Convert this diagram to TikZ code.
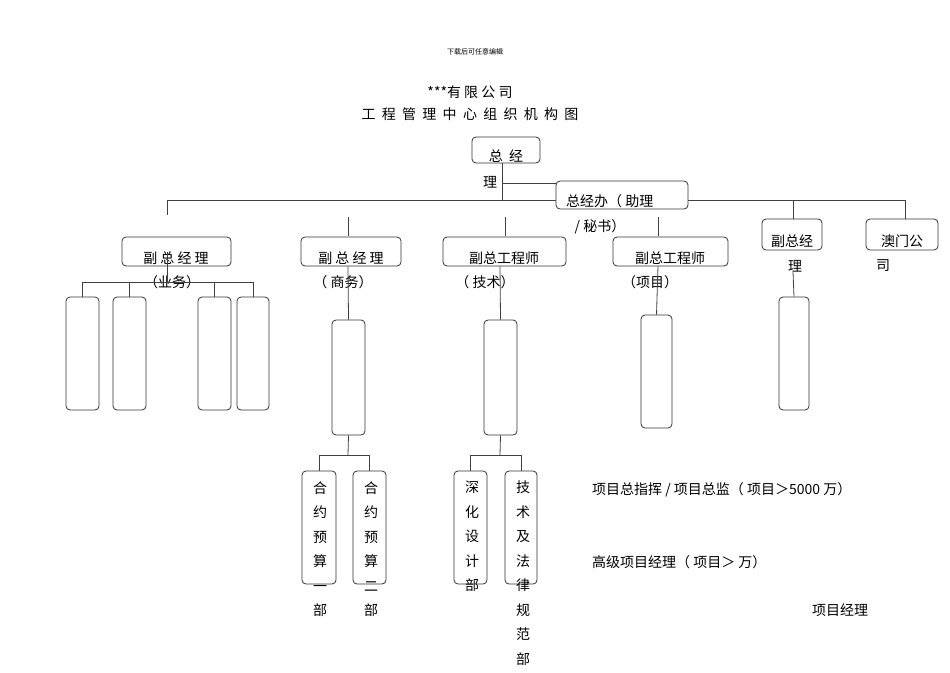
\documentclass[tikz,border=0pt]{standalone}
\usepackage{fontspec}
\setmainfont{Noto Sans CJK SC}
\begin{document}
\begin{tikzpicture}[x=1pt,y=-1pt,
  box/.style={draw=black!80,rounded corners=4pt,line width=0.8pt,inner sep=0pt},
  ln/.style={draw=black!75,line width=0.8pt},
  t/.style={font=\fontsize{14}{16}\selectfont,inner sep=0pt},
  vt/.style={font=\fontsize{14}{24.5}\selectfont,inner sep=0pt,align=center,anchor=north}]
\useasboundingbox (0,0) rectangle (950,672);
\node[font=\fontsize{7}{8}\selectfont] (hd) at (475,52) {下载后可任意编辑};
\node[t] (t1) at (470,92) {***有\ 限\ 公\ 司};
\node[t] (t2) at (470,114) {工\ \ 程\ \ 管\ \ 理\ \ 中\ \ 心\ \ 组\ \ 织\ \ 机\ \ 构\ \ 图};
% top
\node[box,minimum width=68,minimum height=26] (gm) at (506,150) {};
\node[t] at (506,156) {总\ \ 经};
\node[t] (gmb) at (490,182) {理};
\node[box,minimum width=132,minimum height=28] (ofc) at (622,195) {};
\node[t,anchor=west] at (566,201) {总经办（\ 助理};
\node[t] at (600,227) {/ 秘书）};
\coordinate (hubT) at (502,163);
\coordinate (hub) at (502,200);
\draw[ln] (hubT) -- (hub);
\draw[ln] (502,183) -- (ofc.west|-502,183);
\coordinate (hL) at (167,200); \coordinate (hR) at (905,200);
\draw[ln] (hL) -- (ofc.west|-hL); \draw[ln] (ofc.east|-hL) -- (hR);
% level 2
\node[box,minimum width=109,minimum height=29] (v1) at (176.5,251.5) {};
\node[t] at (176,258) {副\ 总\ 经\ 理}; \node[t] at (172,282) {（业务）};
\node[box,minimum width=100,minimum height=29] (v2) at (351,251.5) {};
\node[t] at (351,258) {副\ 总\ 经\ 理}; \node[t] at (343,282) {（\ 商务）};
\node[box,minimum width=123,minimum height=29] (v3) at (504.5,251.5) {};
\node[t] at (504,258) {副总工程师}; \node[t] at (485,282) {（\ 技术）};
\node[box,minimum width=115,minimum height=29] (v4) at (670.5,251.5) {};
\node[t] at (670,258) {副总工程师}; \node[t] at (650,282) {（项目）};
\node[box,minimum width=60,minimum height=31] (v5) at (792,234.5) {};
\node[t] at (792,241) {副总经}; \node[t] at (795,266) {理};
\node[box,minimum width=72,minimum height=31] (v6) at (902,234.5) {};
\node[t] at (902,241) {澳门公}; \node[t] at (883,266) {司};
\draw[ln] (hL) -- (167,215);
\draw[ln] (348,217) -- (348,236);
\draw[ln] (505,217) -- (505,236);
\draw[ln] (658,217) -- (658,236);
\draw[ln] (hL-|v5.north) ++(1,0) -- (793,219);
\draw[ln] (905,200) -- (905,219);
% group 1
\foreach \n/\x/\w in {a/82.5/33,b/129.5/33,c/214.5/33,d/253/32}{
  \node[box,minimum width=\w,minimum height=113] (g\n) at (\x,353.5) {};
}
\draw[ln] (167,252) -- (167,282);
\draw[ln] (ga.north|-0,282) -- (gd.north|-0,282);
\foreach \n in {a,b,c,d} \draw[ln] (g\n.north|-0,282) -- (g\n.north);
% group 2
\node[box,minimum width=33,minimum height=115] (m2) at (348.5,377.5) {};
\draw[ln] (348,266) -- (m2.north);
\node[box,minimum width=34,minimum height=113] (c1) at (319,527.5) {};
\node[box,minimum width=33,minimum height=113] (c2) at (369.5,527.5) {};
\draw[ln] (m2.south) -- (348,455);
\draw[ln] (c1.north|-0,455) -- (c2.north|-0,455);
\draw[ln] (c1.north|-0,455) -- (c1.north); \draw[ln] (c2.north|-0,455) -- (c2.north);
\node[vt] at (320,481) {合\\约\\预\\算\\一\\部};
\node[vt] at (371,481) {合\\约\\预\\算\\二\\部};
% group 3
\node[box,minimum width=33,minimum height=115] (m3) at (500.5,377.5) {};
\draw[ln] (500,266) -- (m3.north);
\node[box,minimum width=33,minimum height=113] (d1) at (470.5,527.5) {};
\node[box,minimum width=32,minimum height=113] (d2) at (521,527.5) {};
\draw[ln] (m3.south) -- (500,455);
\draw[ln] (d1.north|-0,455) -- (d2.north|-0,455);
\draw[ln] (d1.north|-0,455) -- (d1.north); \draw[ln] (d2.north|-0,455) -- (d2.north);
\node[vt] at (472,481) {深\\化\\设\\计\\部};
\node[vt] at (523,481) {技\\术\\及\\法\\律\\规\\范\\部};
% group 4, 5
\node[box,minimum width=31,minimum height=113] (m4) at (656.5,371.5) {};
\draw[ln] (658,266) -- (m4.north);
\node[box,minimum width=30,minimum height=113] (m5) at (794,353.5) {};
\draw[ln] (793,272) -- (m5.north);
% notes
\node[t,anchor=west] at (592,490) {项目总指挥 / 项目总监（\ 项目＞5000 万）};
\node[t,anchor=west] at (592,562) {高级项目经理（\ 项目＞\ 万）};
\node[t] at (840,610) {项目经理};
\end{tikzpicture}
\end{document}
